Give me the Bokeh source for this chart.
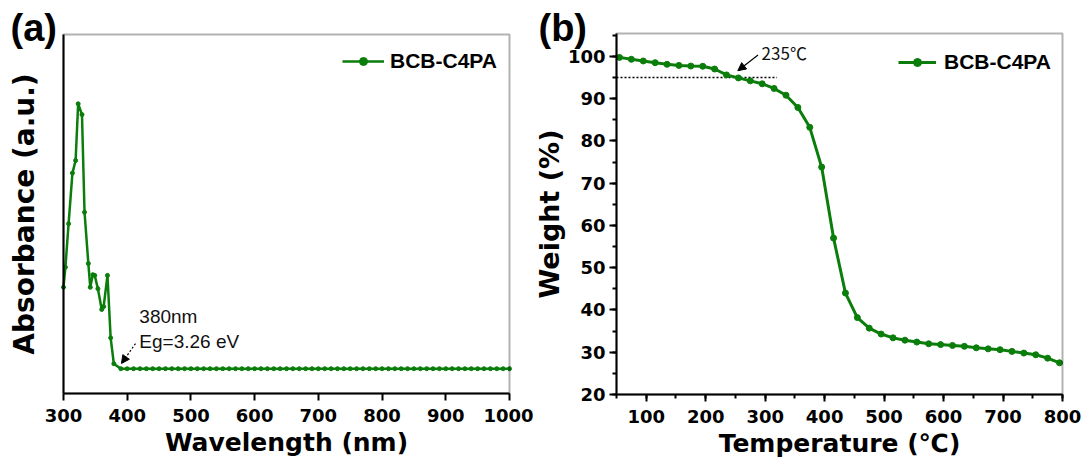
from bokeh.embed import file_html
from bokeh.layouts import row
from bokeh.models import (Arrow, BoxAnnotation, FixedTicker, Label, Legend, LegendItem,
                          LinearAxis, NormalHead, Range1d, SingleIntervalTicker)
from bokeh.plotting import figure
from bokeh.resources import INLINE

GREEN = "#0a7d0a"
FONT = "Liberation Sans"
WIDE_FONT = "DejaVu Sans"
CJK_FONT = "Noto Sans CJK SC"

# (a) UV-vis absorption spectrum of BCB-C4PA
wavelength = [300, 303, 308, 314, 319, 323, 329, 333, 339, 342, 346, 349, 354, 360, 363, 369, 374, 379,
              390, 400, 410, 420, 430, 440, 450, 460, 470, 480, 490, 500, 510, 520, 530, 540, 550,
              560, 570, 580, 590, 600, 610, 620, 630, 640, 650, 660, 670, 680, 690, 700, 710, 720,
              730, 740, 750, 760, 770, 780, 790, 800, 810, 820, 830, 840, 850, 860, 870, 880, 890,
              900, 910, 920, 930, 940, 950, 960, 970, 980, 990, 1000]
absorbance = [0.296, 0.352, 0.473, 0.614, 0.649, 0.807, 0.777, 0.505, 0.362, 0.296, 0.331, 0.329,
              0.292, 0.234, 0.242, 0.329, 0.155, 0.083,
              0.069, 0.069, 0.069, 0.069, 0.069, 0.069, 0.069, 0.069, 0.069, 0.069, 0.069, 0.069,
              0.069, 0.069, 0.069, 0.069, 0.069, 0.069, 0.069, 0.069, 0.069, 0.069, 0.069, 0.069,
              0.069, 0.069, 0.069, 0.069, 0.069, 0.069, 0.069, 0.069, 0.069, 0.069, 0.069, 0.069,
              0.069, 0.069, 0.069, 0.069, 0.069, 0.069, 0.069, 0.069, 0.069, 0.069, 0.069, 0.069,
              0.069, 0.069, 0.069, 0.069, 0.069, 0.069, 0.069, 0.069, 0.069, 0.069, 0.069, 0.069,
              0.069, 0.069]

# (b) TGA curve of BCB-C4PA
temperature = [55, 75, 95, 115, 135, 155, 175, 195, 215, 235, 255, 275, 295, 315, 335, 355, 375,
               395, 415, 435, 455, 475, 495, 515, 535, 555, 575, 595, 615, 635, 655, 675, 695,
               715, 735, 755, 775, 795]
weight = [99.75, 99.3, 98.9, 98.5, 98.1, 97.85, 97.7, 97.65, 97.0, 95.6, 94.9, 94.2, 93.5, 92.4,
          90.8, 87.9, 83.2, 73.8, 57.0, 44.0, 38.2, 35.7, 34.3, 33.4, 32.85, 32.4, 32.0, 31.8,
          31.6, 31.4, 31.05, 30.8, 30.6, 30.2, 29.8, 29.4, 28.6, 27.5]

td5_temperature = 235
td5_weight = 95
gap_wavelength = 380
gap_energy = 3.26

HEIGHT = 461


class Panel:
    """A figure whose plotting box sits at fixed pixel edges inside the canvas,
    so that annotations outside the box (panel tags) stay visible."""

    def __init__(self, width, box, xlim, ylim):
        left, right, top, bottom = box
        self.xppu = (right - left) / (xlim[1] - xlim[0])
        self.yppu = (bottom - top) / (ylim[1] - ylim[0])
        self.x0 = xlim[0] - left / self.xppu
        self.y1 = ylim[1] + top / self.yppu
        xr = Range1d(self.x0, xlim[1] + (width - right) / self.xppu)
        yr = Range1d(ylim[0] - (HEIGHT - bottom) / self.yppu, self.y1)
        self.p = figure(width=width, height=HEIGHT, x_range=xr, y_range=yr, min_border=0,
                        x_axis_location=None, y_axis_location=None,
                        output_backend="svg", toolbar_location=None)
        p = self.p
        p.outline_line_color = None
        p.xgrid.visible = False
        p.ygrid.visible = False
        p.background_fill_color = "white"
        p.border_fill_color = "white"
        p.add_layout(BoxAnnotation(left=xlim[0], right=xlim[1], bottom=ylim[0], top=ylim[1],
                                   fill_alpha=0, line_color="black", line_width=2))
        self.xlim, self.ylim = xlim, ylim

    def data_x(self, px):
        return self.x0 + px / self.xppu

    def data_y(self, py):
        return self.y1 - py / self.yppu

    def axis(self, side, ticker, label, label_size, label_standoff, tick_standoff):
        loc = self.ylim[0] if side == "below" else self.xlim[0]
        bounds = self.xlim if side == "below" else self.ylim
        ax = LinearAxis(fixed_location=loc, bounds=bounds, ticker=ticker, axis_label=label)
        ax.axis_line_width = 2
        ax.axis_line_color = "black"
        ax.major_tick_line_width = 2
        ax.minor_tick_line_width = 2
        ax.major_tick_out = 7
        ax.major_tick_in = 0
        ax.minor_tick_out = 4
        ax.minor_tick_in = 0
        ax.major_label_text_font = WIDE_FONT
        ax.major_label_text_font_style = "bold"
        ax.major_label_text_font_size = "18px"
        ax.major_label_text_color = "black"
        ax.major_label_standoff = tick_standoff
        ax.axis_label_text_font = WIDE_FONT
        ax.axis_label_text_font_style = "bold"
        ax.axis_label_text_color = "black"
        ax.axis_label_text_font_size = label_size
        ax.axis_label_standoff = label_standoff
        self.p.add_layout(ax, side)
        return ax

    def legend(self, renderers, loc, glyph_w, standoff):
        self.p.add_layout(Legend(items=[LegendItem(label="BCB-C4PA", renderers=renderers)],
                                 location=loc, border_line_color=None, background_fill_alpha=0,
                                 padding=0, margin=0, spacing=0, glyph_width=glyph_w,
                                 glyph_height=20, label_standoff=standoff, label_height=20,
                                 label_text_font=FONT, label_text_font_style="bold",
                                 label_text_font_size="21px", label_text_color="black"))

    def tag(self, text, px, py):
        self.p.add_layout(Label(x=self.data_x(px), y=self.data_y(py), text=text,
                                text_font=FONT, text_font_style="bold", text_font_size="38px",
                                text_baseline="middle", text_color="black"))


# ---------- panel (a) ----------
A = Panel(533, (63, 509, 34, 393), (300, 1000), (0, 1))
pa = A.p
A.axis("below", SingleIntervalTicker(interval=100, num_minor_ticks=0),
       "Wavelength (nm)", "25px", 3, 8).minor_tick_line_color = None
ya = A.axis("left", FixedTicker(ticks=[]), "Absorbance (a.u.)", "28px", 23, 3)
ya.minor_tick_line_color = None

la = pa.line(wavelength, absorbance, line_color=GREEN, line_width=2.5)
sa = pa.scatter(wavelength, absorbance, size=4, fill_color=GREEN, line_color=GREEN)
A.legend([la, sa], (342, 388), 42, 6)

pa.add_layout(Arrow(end=NormalHead(size=8, fill_color="black", line_color="black"),
                    x_start=413, y_start=0.139, x_end=391, y_end=0.0836,
                    line_color="black", line_width=1.2, line_dash="2 2"))
pa.add_layout(Label(x=419, y=0.215, text=f"{gap_wavelength}nm", text_font=FONT,
                    text_font_size="19px", text_baseline="middle", text_color="#111111"))
pa.add_layout(Label(x=419, y=0.146, text=f"Eg={gap_energy} eV", text_font=FONT,
                    text_font_size="19px", text_baseline="middle", text_color="#111111"))
A.tag("(a)", 10, 27)

# ---------- panel (b) ----------
B = Panel(550, (83, 529, 33, 394), (50, 800), (20, 105.4))
pb = B.p
B.axis("below", SingleIntervalTicker(interval=100, num_minor_ticks=2),
       "Temperature (℃)", "25px", 3, 8)
B.axis("left", SingleIntervalTicker(interval=10, num_minor_ticks=2),
       "Weight (%)", "27px", 0, 4)

pb.line([50, 320], [td5_weight, td5_weight], line_color="black", line_width=1.5, line_dash="2 2")
lb = pb.line(temperature, weight, line_color=GREEN, line_width=3)
sb = pb.scatter(temperature, weight, size=6, fill_color=GREEN, line_color=GREEN)
B.legend([lb, sb], (365, 387), 38, 8)

pb.add_layout(Arrow(end=NormalHead(size=8, fill_color="black", line_color="black"),
                    x_start=288, y_start=100.3, x_end=td5_temperature + 19, y_end=96.6,
                    line_color="black", line_width=1.2))
pb.add_layout(Label(x=294, y=100.9, text=f"{td5_temperature}℃", text_font=CJK_FONT,
                    text_font_size="17px", text_baseline="middle", text_color="#111111"))
B.tag("(b)", 5, 27)

layout = row(pa, pb, spacing=0)
open("out.html", "w").write(file_html(layout, INLINE))
